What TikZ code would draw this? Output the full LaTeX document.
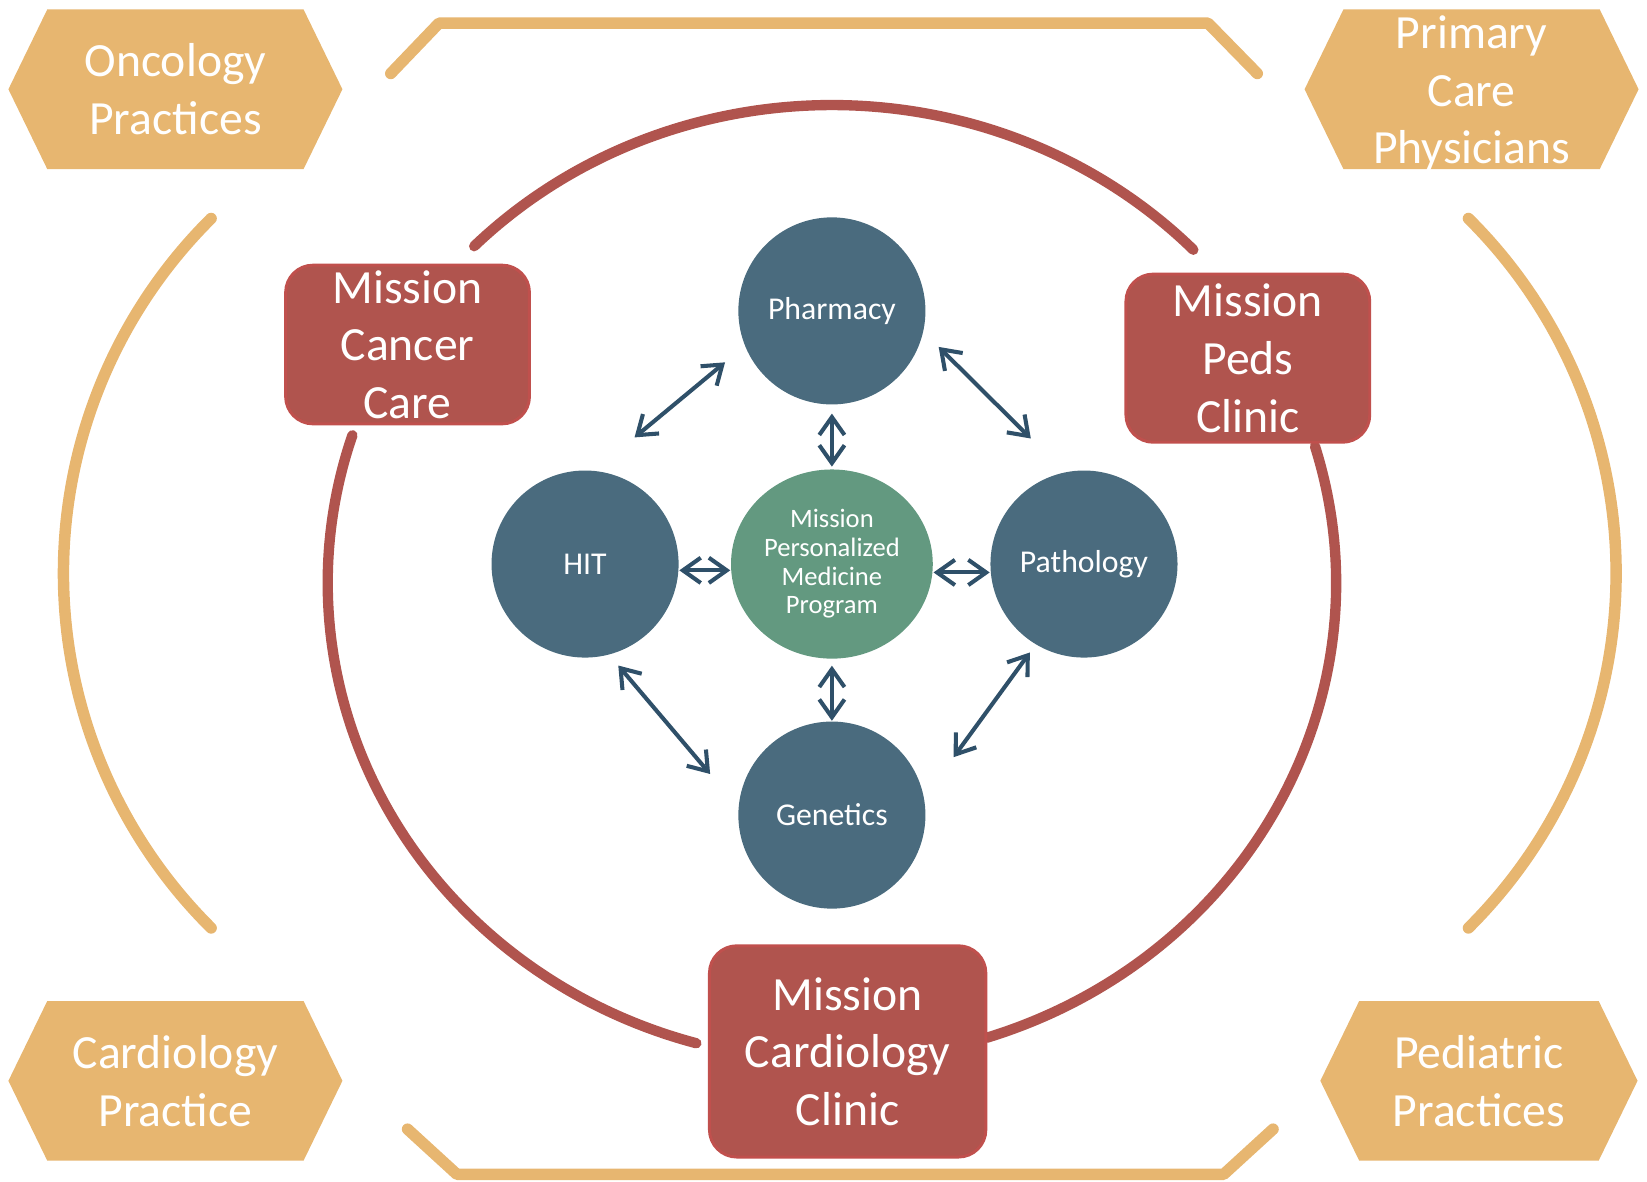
\documentclass[tikz,border=0pt]{standalone}
\usepackage{fontspec}
\setmainfont{Carlito}
\usetikzlibrary{arrows.meta,shapes.geometric,backgrounds}

\definecolor{gold}{HTML}{E7B670}
\definecolor{brick}{HTML}{B0544E}
\definecolor{brickline}{HTML}{C0504D}
\definecolor{slate}{HTML}{4A6B7E}
\definecolor{sage}{HTML}{639980}
\definecolor{arrowblue}{HTML}{2F5069}

\tikzset{
  hexlabel/.style={text=white, align=center, inner sep=0pt, font=\fontsize{12.9}{15.6}\selectfont},
  clinic/.style={rectangle, rounded corners=0.26cm, fill=brick, draw=brickline, line width=0.8pt,
    text=white, align=center, inner sep=0pt, font=\fontsize{12.9}{15.6}\selectfont},
  dept/.style={circle, fill=slate, text=white, minimum size=1.78cm, inner sep=0pt,
    font=\fontsize{8.6}{10}\selectfont},
  hub/.style={ellipse, fill=sage, text=white, minimum width=1.92cm, minimum height=1.8cm,
    inner sep=0pt, align=center, font=\fontsize{7.2}{7.75}\selectfont},
  link/.style={arrowblue, line width=1.1pt, <->, >={Straight Barb[length=1.7mm,width=2.4mm]}},
  ring/.style={brick, line width=2.8pt, line cap=round},
  rim/.style={gold, line width=3.1pt, line cap=round, line join=round}
}

\begin{document}
\begin{tikzpicture}[x=0.01cm, y=-0.01cm]
\useasboundingbox (0,0) rectangle (1568,1125);
% outer partners
\draw[rim] (372,70) -- (418,22) -- (1150,22) -- (1197,70);
\draw[rim] (388,1075) -- (435,1118) -- (1165,1118) -- (1212,1075);
\draw[rim] (201,208) arc[start angle=225.2, end angle=134.8, radius=476];
\draw[rim] (1398,208) arc[start angle=-45.2, end angle=45.2, radius=476];
% mission ring
\coordinate (ctr) at (792,555);
\draw[ring] ([shift={(-135.2:480 and 455)}]ctr) arc[start angle=-135.2, end angle=-44.2, x radius=480, y radius=455];
\draw[ring] ([shift={(198:480 and 455)}]ctr) arc[start angle=198, end angle=105.6, x radius=480, y radius=455];
\draw[ring] ([shift={(-16.6:480 and 455)}]ctr) arc[start angle=-16.6, end angle=72.1, x radius=480, y radius=455];

\node[hexlabel] (onc) at (167,85) {Oncology\\Practices};
\node[hexlabel] (pcp) at (1401,89) {Primary\\Care\\Physicians};
\node[hexlabel] (cpr) at (167,1029) {Cardiology\\Practice};
\node[hexlabel] (ped) at (1408,1029) {Pediatric\\Practices};
\begin{scope}[on background layer]
\foreach \n/\w/\h in {onc/122/0, pcp/122/-4, cpr/122/0, ped/114/0}
  \fill[gold] ([shift={(-\w,{\h-76})}]\n.center) -- ([shift={(\w,{\h-76})}]\n.center)
    -- ([shift={({\w+37},\h)}]\n.center) -- ([shift={(\w,{\h+76})}]\n.center)
    -- ([shift={(-\w,{\h+76})}]\n.center) -- ([shift={({-\w-37},\h)}]\n.center) -- cycle;
\end{scope}

\node[clinic, minimum width=2.32cm, minimum height=1.51cm] (mcc) at (388,328) {Mission\\Cancer\\Care};
\node[clinic, minimum width=2.32cm, minimum height=1.6cm] (mpc) at (1188,341) {Mission\\Peds\\Clinic};
\node[clinic, minimum width=2.63cm, minimum height=2.01cm] (mcl) at (807,1001) {Mission\\Cardiology\\Clinic};

\node[dept] (pharm) at (792,296) {Pharmacy};
\node[dept] (hit) at (557,537) {HIT};
\node[dept] (patho) at (1032,537) {Pathology};
\node[dept] (gen) at (792,776) {Genetics};
\node[hub] (mpm) at (792,537) {Mission\\Personalized\\Medicine\\Program};

\path[link]
(pharm.202) edge[shorten <=0.24cm, shorten >=0.49cm] (hit.84)
(pharm.347) edge[shorten <=0.2cm, shorten >=0.45cm] (patho.102)
(hit.285) edge[shorten <=0.13cm, shorten >=0.41cm] (gen.175.5)
(patho.239) edge[shorten <=0.09cm, shorten >=0.47cm] (gen.11)
(pharm.south) edge[shorten <=0.08cm, shorten >=0.02cm] (mpm.north)
(mpm.south) edge[shorten <=0.06cm] (gen.north)
([yshift=-0.06cm]hit.east) edge ([yshift=-0.06cm]mpm.west)
([yshift=-0.08cm]mpm.east) edge ([yshift=-0.08cm]patho.west);
\end{tikzpicture}
\end{document}
